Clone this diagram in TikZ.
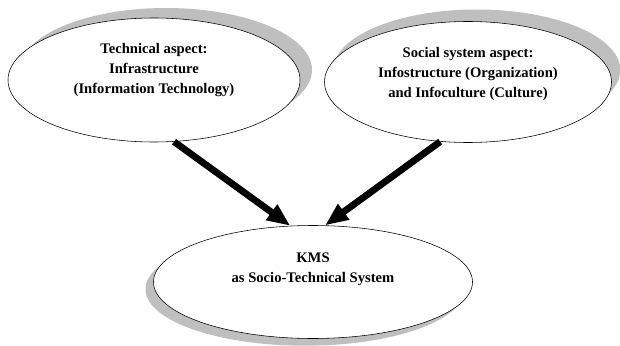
\documentclass[tikz,border=0pt]{standalone}
\usepackage{fontspec}
\setmainfont{Liberation Serif}
\usetikzlibrary{shapes.geometric,arrows.meta,positioning,shadows}

\begin{document}
\begin{tikzpicture}[bubble/.style={draw, ellipse, fill=white, thin},
    caption/.style={font=\fontsize{10.4}{14.2}\selectfont\bfseries, align=center},
    arrow/.style={line width=0.17cm, -{Triangle[length=0.58cm,width=0.45cm]}}]

        \useasboundingbox (0,0) rectangle (15.5,8.625);

        % top ellipses
        \node [bubble, minimum width=7.3cm, minimum height=3.1cm,
               drop shadow={shadow xshift=0.3cm, shadow yshift=0.25cm, fill=gray!50, opacity=1}]
               (tech) at (3.85,6.625) {};
        \node [bubble, minimum width=7.175cm, minimum height=3.025cm,
               drop shadow={shadow xshift=0.22cm, shadow yshift=0.3cm, fill=gray!50, opacity=1}]
               (social) at (11.7,6.575) {};

        % bottom ellipse
        \node [bubble, minimum width=7.975cm, minimum height=2.825cm,
               drop shadow={shadow xshift=-0.2cm, shadow yshift=-0.18cm, fill=gray!50, opacity=1}]
               (kms) at (7.825,1.575) {};

        % texts
        \node [caption] (techtext) at ([yshift=0.25cm]tech.center)
            {Technical aspect:\\Infrastructure\\(Information Technology)};
        \node [caption] (socialtext) at ([yshift=0.2cm]social.center)
            {Social system aspect:\\Infostructure (Organization)\\and Infoculture (Culture)};
        \node [caption] (kmstext) at ([yshift=0.33cm]kms.center)
            {KMS\\as Socio-Technical System};

        % Arrows
        \draw [arrow] (tech.-72) -- (kms.112);
        \draw [arrow] (social.-115) -- (kms.78);

    \end{tikzpicture}
\end{document}
